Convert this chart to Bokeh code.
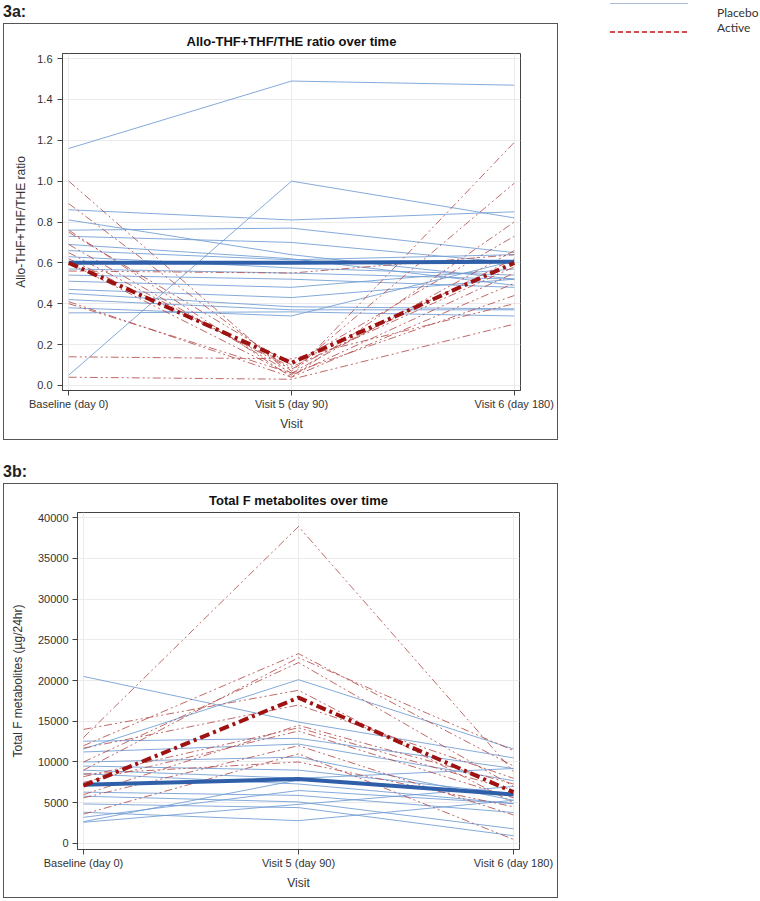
from bokeh.plotting import figure
from bokeh.layouts import column, row
from bokeh.models import FixedTicker, NumeralTickFormatter, Div
from bokeh.embed import file_html
from bokeh.resources import INLINE

# ---------------- data ----------------
visits = ["Baseline (day 0)", "Visit 5 (day 90)", "Visit 6 (day 180)"]
visit_pos = [0, 1, 2]

# 3a: Allo-THF+THF/THE ratio (baseline, visit 5, visit 6) per subject
ratio_placebo = [
    [1.16, 1.49, 1.47],
    [0.05, 1.00, 0.82],
    [0.86, 0.81, 0.85],
    [0.81, 0.64, 0.52],
    [0.76, 0.77, 0.65],
    [0.73, 0.70, 0.60],
    [0.69, 0.62, 0.49],
    [0.66, 0.615, 0.64],
    [0.63, 0.575, 0.54],
    [0.57, 0.55, 0.52],
    [0.54, 0.52, 0.48],
    [0.51, 0.48, 0.57],
    [0.47, 0.43, 0.52],
    [0.45, 0.385, 0.375],
    [0.42, 0.37, 0.37],
    [0.38, 0.34, 0.61],
    [0.355, 0.36, 0.34],
]
ratio_active = [
    [1.00, 0.05, 1.19],
    [0.89, 0.07, 0.99],
    [0.76, 0.04, 0.80],
    [0.75, 0.10, 0.73],
    [0.69, 0.06, 0.66],
    [0.65, 0.08, 0.62],
    [0.56, 0.55, 0.64],
    [0.62, 0.09, 0.58],
    [0.60, 0.05, 0.55],
    [0.41, 0.04, 0.50],
    [0.40, 0.06, 0.44],
    [0.14, 0.13, 0.40],
    [0.04, 0.03, 0.30],
]
ratio_placebo_mean = [0.60, 0.60, 0.605]
ratio_active_mean = [0.60, 0.11, 0.60]
ratio_ticks = [0.0, 0.2, 0.4, 0.6, 0.8, 1.0, 1.2, 1.4, 1.6]

# 3b: Total F metabolites (ug/24hr) per subject
totalf_placebo = [
    [20500, 14900, 10500],
    [11600, 20100, 11600],
    [12550, 12900, 9200],
    [11230, 12200, 7700],
    [10000, 10600, 5300],
    [9500, 9000, 6100],
    [9000, 8000, 9200],
    [8560, 7300, 4900],
    [6300, 5900, 3800],
    [5800, 5100, 1800],
    [4850, 4400, 950],
    [3830, 2800, 5300],
    [3210, 6500, 4900],
    [2680, 7800, 6000],
    [2600, 4800, 7000],
]
totalf_active = [
    [13000, 38900, 8800],
    [12000, 23300, 9500],
    [9000, 22800, 11400],
    [10000, 22200, 7000],
    [14000, 18800, 5000],
    [11700, 17000, 8000],
    [8200, 14200, 6500],
    [7500, 13800, 5600],
    [5600, 12000, 3500],
    [3600, 11000, 500],
    [8500, 10000, 4500],
    [6000, 14500, 7300],
]
totalf_placebo_mean = [7200, 7900, 6000]
totalf_active_mean = [7100, 17900, 6300]
totalf_ticks = [0, 5000, 10000, 15000, 20000, 25000, 30000, 35000, 40000]

group_names = ["Placebo", "Active"]

# ---------------- styles ----------------
PLAC_THIN = "#6f9bd2"
PLAC_MEAN = "#2e5fa8"
ACT_THIN = "#b4504e"
ACT_MEAN = "#9e1212"
AX = "#444444"
TXT = "#333333"
FONT = "Liberation Sans"


def make_panel(title, ylabel, ticks, fmt, y_range, plac, act, plac_mean, act_mean,
               width, height, b_left, b_right, b_top, b_bottom, label_standoff, ylabel_standoff):
    p = figure(width=width, height=height, x_range=(-0.028, 2.028), y_range=y_range,
               title=title, output_backend="svg", toolbar_location=None,
               min_border_left=b_left, min_border_right=b_right,
               min_border_top=b_top, min_border_bottom=b_bottom,
               background_fill_color="white", border_fill_color="white",
               outline_line_color=AX, outline_line_width=1,
               styles={"border": "1px solid #555555", "margin-left": "3px"})
    p.title.align = "center"
    p.title.text_font = FONT
    p.title.text_font_size = "13px"
    p.title.text_font_style = "bold"
    p.title.text_color = "#111111"
    p.title.standoff = 10

    p.multi_line([visit_pos] * len(plac), plac, line_color=PLAC_THIN, line_width=1, line_alpha=0.85)
    p.multi_line([visit_pos] * len(act), act, line_color=ACT_THIN, line_width=1, line_alpha=0.85,
                 line_dash="8 3 2 3 2 3")
    p.line(visit_pos, plac_mean, line_color=PLAC_MEAN, line_width=4)
    p.line(visit_pos, act_mean, line_color=ACT_MEAN, line_width=4, line_dash="10 4 3 4")

    p.xaxis.ticker = FixedTicker(ticks=visit_pos)
    p.xaxis.major_label_overrides = {i: v for i, v in zip(visit_pos, visits)}
    p.xaxis.axis_label = "Visit"
    p.yaxis.ticker = FixedTicker(ticks=ticks)
    p.yaxis.formatter = NumeralTickFormatter(format=fmt)
    p.yaxis.axis_label = ylabel
    for ax in (p.xaxis[0], p.yaxis[0]):
        ax.axis_line_color = AX
        ax.major_tick_line_color = AX
        ax.major_tick_out = 5
        ax.major_tick_in = 0
        ax.minor_tick_line_color = None
        ax.major_label_text_font = FONT
        ax.major_label_text_font_size = "11px"
        ax.major_label_text_color = TXT
        ax.axis_label_text_font = FONT
        ax.axis_label_text_font_size = "12px"
        ax.axis_label_text_font_style = "normal"
        ax.axis_label_text_color = TXT
    p.xaxis.major_label_standoff = 2
    p.xaxis.axis_label_standoff = 4
    p.yaxis.major_label_standoff = label_standoff
    p.yaxis.axis_label_standoff = ylabel_standoff
    p.xgrid.grid_line_color = "#ebebeb"
    p.ygrid.grid_line_color = "#ebebeb"
    return p


def panel_label(text, height, pad_top):
    return Div(text=text, width=558, height=height, margin=0,
               styles={"padding-left": "3px", "padding-top": f"{pad_top}px",
                       "font-family": FONT, "font-size": "16px", "font-weight": "bold",
                       "line-height": "16px", "color": "#222222", "box-sizing": "border-box"})


p1 = make_panel("Allo-THF+THF/THE ratio over time", "Allo-THF+THF/THE ratio",
                ratio_ticks, "0.0", (-0.025, 1.625),
                ratio_placebo, ratio_active, ratio_placebo_mean, ratio_active_mean,
                width=555, height=417, b_left=58, b_right=39, b_top=29, b_bottom=51,
                label_standoff=5, ylabel_standoff=6)

p2 = make_panel("Total F metabolites over time", "Total F metabolites (\u00b5g/24hr)",
                totalf_ticks, "0", (-740, 40620),
                totalf_placebo, totalf_active, totalf_placebo_mean, totalf_active_mean,
                width=555, height=415, b_left=73, b_right=40, b_top=28, b_bottom=50,
                label_standoff=4, ylabel_standoff=10)

legend_html = (
    '<div style="position:relative;width:202px;height:40px;">'
    '<div style="position:absolute;left:52px;top:3px;width:78px;height:1px;background:#a8bcd4;"></div>'
    f'<div style="position:absolute;left:159px;top:5px;font-family:Lato;font-size:12px;'
    f'line-height:16px;color:#333333;">{group_names[0]}</div>'
    '<div style="position:absolute;left:52px;top:31px;width:78px;height:2px;'
    'background:repeating-linear-gradient(to right,#d04a4a 0px,#d04a4a 5px,transparent 5px,transparent 8px);"></div>'
    f'<div style="position:absolute;left:159px;top:20px;font-family:Lato;font-size:12px;'
    f'line-height:16px;color:#333333;">{group_names[1]}</div>'
    '</div>'
)
legend = Div(text=legend_html, width=202, height=40, margin=0)

root_a = row(column(panel_label("3a:", 23, 4), p1), legend)
root_b = column(panel_label("3b:", 43, 24), p2)

open("out.html", "w").write(file_html([root_a, root_b], INLINE))
